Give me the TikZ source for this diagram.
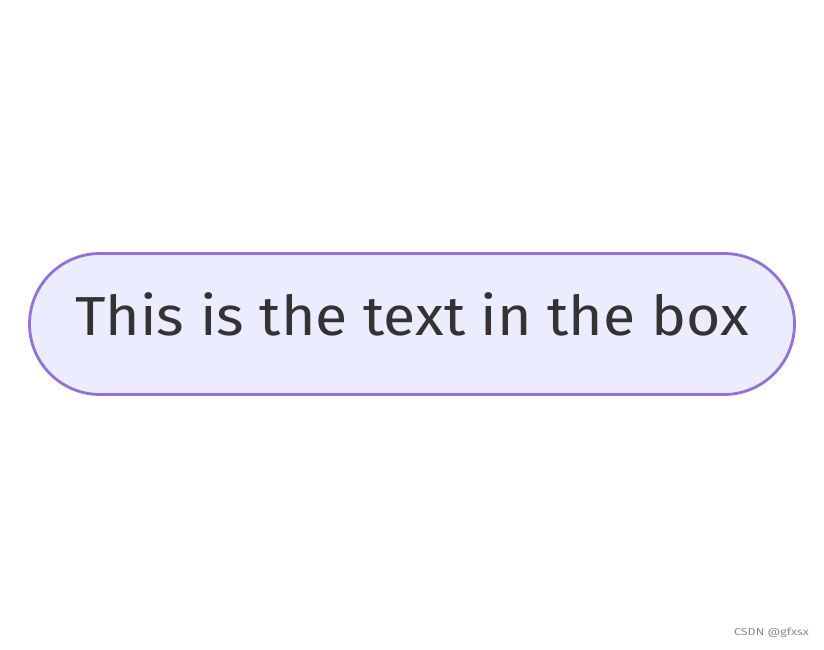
\documentclass[tikz,border=0pt]{standalone}
\usepackage{fontspec}
\setmainfont{Fira Sans}
\definecolor{boxfill}{HTML}{ECECFF}
\definecolor{boxline}{HTML}{9370DB}
\definecolor{txt}{HTML}{333333}
\definecolor{wm}{HTML}{8C8C8C}
\begin{document}
\begin{tikzpicture}[x=1pt,y=1pt,
  stadium/.style={draw=boxline,fill=boxfill,line width=2.8pt,rounded corners=70.5pt},
  label/.style={text=txt,font=\fontsize{55}{60}\selectfont,anchor=base,inner sep=0pt}]
\useasboundingbox (0,0) rectangle (824,649);
\fill[white] (0,0) rectangle (824,649);
\draw[stadium] (29.5,254.5) rectangle (794.5,395.5);
\node[label] (t) at (412,314) {\scalebox{1.072}[1]{This is the text in the box}};
\node[text=wm,font=\fontsize{10}{11}\selectfont,anchor=east,inner sep=0pt] (w) at (809,16) {\scalebox{1.25}[1]{CSDN @gfxsx}};
\end{tikzpicture}
\end{document}
